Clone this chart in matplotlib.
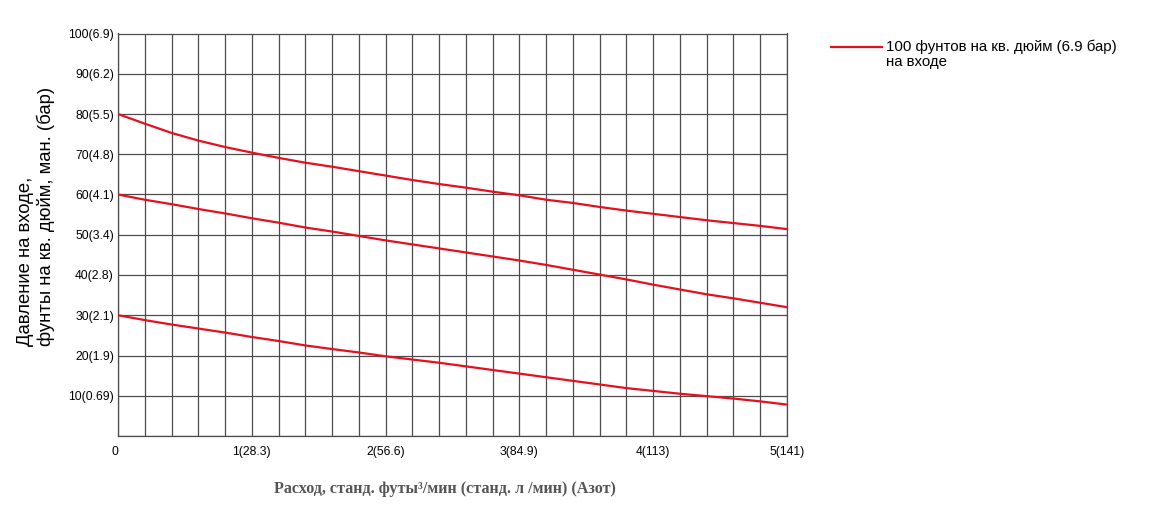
import matplotlib
matplotlib.use("Agg")
import matplotlib.pyplot as plt
from matplotlib.lines import Line2D
import numpy as np

# ---- data ----
flow = [0.0, 0.2, 0.4, 0.6, 0.8, 1.0, 1.2, 1.4, 1.6, 1.8, 2.0, 2.2, 2.4, 2.6, 2.8,
        3.0, 3.2, 3.4, 3.6, 3.8, 4.0, 4.2, 4.4, 4.6, 4.8, 5.0]
p_top = [80.0, 77.6, 75.3, 73.4, 71.8, 70.4, 69.1, 67.9, 66.9, 65.8, 64.7, 63.6, 62.6, 61.7, 60.7,
         59.8, 58.7, 57.9, 56.9, 56.0, 55.2, 54.4, 53.6, 52.9, 52.2, 51.4]
p_mid = [60.0, 58.7, 57.6, 56.4, 55.3, 54.1, 53.0, 51.8, 50.8, 49.7, 48.6, 47.6, 46.6, 45.6, 44.6,
         43.6, 42.5, 41.3, 40.1, 38.9, 37.6, 36.4, 35.2, 34.2, 33.1, 32.0]
p_low = [30.0, 28.8, 27.7, 26.7, 25.7, 24.6, 23.6, 22.5, 21.6, 20.75, 19.8, 19.0, 18.2, 17.3, 16.4,
         15.5, 14.6, 13.7, 12.8, 11.9, 11.2, 10.5, 9.9, 9.3, 8.6, 7.8]

x_ticks = [0, 1, 2, 3, 4, 5]
x_ticklabels = ["0", "1(28.3)", "2(56.6)", "3(84.9)", "4(113)", "5(141)"]
y_ticks = [10, 20, 30, 40, 50, 60, 70, 80, 90, 100]
y_ticklabels = ["10(0.69)", "20(1.9)", "30(2.1)", "40(2.8)", "50(3.4)", "60(4.1)",
                "70(4.8)", "80(5.5)", "90(6.2)", "100(6.9)"]

legend_label = "100 фунтов на кв. дюйм (6.9 бар)\nна входе"
y_label = "Давление на входе,\nфунты на кв. дюйм, ман. (бар)"
x_label = "Расход, станд. футы³/мин (станд. л /мин) (Азот)"

# ---- figure ----
W, H = 1151, 513
fig = plt.figure(figsize=(W / 100, H / 100), dpi=100)
ax = fig.add_axes([118 / W, 1 - 436 / H, (787 - 118) / W, (436 - 33.5) / H])

red = "#e5101f"
grid_c = "#4d4d4d"

for y in (p_top, p_mid, p_low):
    ax.plot(flow, y, color=red, lw=1.6, solid_capstyle="butt", solid_joinstyle="round", zorder=3)

ax.set_xlim(0, 5)
ax.set_ylim(0, 100)

# grid
ax.set_xticks(np.arange(0, 5.01, 0.2), minor=True)
ax.set_yticks(np.arange(0, 100.1, 10), minor=True)
ax.set_xticks(x_ticks)
ax.set_xticklabels(x_ticklabels)
ax.set_yticks(y_ticks)
ax.set_yticklabels(y_ticklabels)
ax.grid(which="both", color=grid_c, lw=0.9)
ax.set_axisbelow(True)
for s in ax.spines.values():
    s.set_color(grid_c)
    s.set_linewidth(0.9)

ax.tick_params(which="both", length=0)
ax.tick_params(axis="x", pad=7, labelsize=8.7)
ax.tick_params(axis="y", pad=3, labelsize=8.7)
for lab in ax.get_xticklabels() + ax.get_yticklabels():
    lab.set_fontfamily("Liberation Sans")
ax.get_xticklabels()[0].set_horizontalalignment("right")

# axis titles
fig.text(36 / W, 1 - 216 / H, y_label, rotation=90, ha="center", va="center",
         multialignment="left", fontsize=13.3, family="Liberation Sans", linespacing=1.15)
fig.text(445 / W, 1 - 489 / H, x_label, ha="center", va="center", fontsize=11.6,
         family="Liberation Serif", fontweight="bold", color="#555555")

# legend
fig.add_artist(Line2D([831 / W, 882 / W], [1 - 47 / H, 1 - 47 / H], color=red, lw=1.6,
                      transform=fig.transFigure))
fig.text(886 / W, 1 - 40 / H, legend_label, ha="left", va="top", fontsize=10.8,
         family="Liberation Sans", linespacing=1.05)

fig.savefig("out.png", dpi=100)
